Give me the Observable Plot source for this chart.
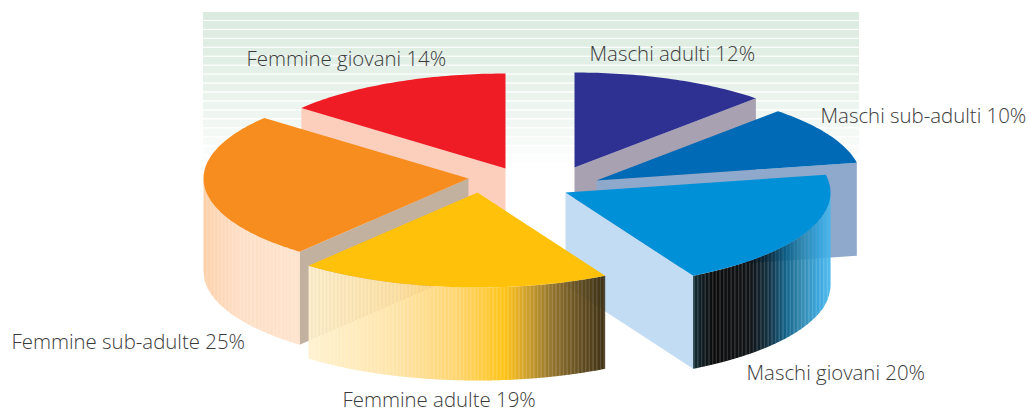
<!DOCTYPE html>
<html>
<head>
<meta charset="utf-8">
<script src="https://cdn.jsdelivr.net/npm/d3@7"></script>
<script src="https://cdn.jsdelivr.net/npm/@observablehq/plot@0.6"></script>
<style>html,body{margin:0;padding:0;background:#fff}svg{display:block}</style>
</head>
<body>
<div id="chart"></div>
<script>
// Data, clockwise from twelve o'clock
const categories = ["Maschi adulti","Maschi sub-adulti","Maschi giovani","Femmine adulte","Femmine sub-adulte","Femmine giovani"];
const shares = [12,10,20,19,25,14];

// Styles
const topColors = ["#2e3192","#006ab6","#0090d7","#ffc10a","#f78d1e","#ef1c25"];
const sideColors = ["#a7a1b1","#8fa9cc","#c2dcf3",null,"#c3b1a0","#fccfbd"];
const rimStops = [
  null,
  null,
  [[0,"#0c2a33"],[0.05,"#03141a"],[0.15,"#000000"],[0.42,"#05090c"],[0.55,"#07283a"],[0.68,"#0a5f88"],[0.8,"#2d88b0"],[0.9,"#2f9fd8"],[1,"#4ab8ec"]],
  [[0,"#fff1cf"],[0.3,"#ffe3a4"],[0.5,"#ffd36a"],[0.66,"#ffc20e"],[0.72,"#d9a521"],[0.82,"#8f6f25"],[0.92,"#5c4618"],[1,"#38290b"]],
  [[0,"#fcd0a8"],[0.12,"#fdd6b4"],[0.4,"#fedfc6"],[1,"#ffe3cd"]],
  null
];
const rimOpacity = [1,1,0.95,0.96,1,1];
const bandShades = ["#dcebe0","#ddece1","#deece2","#dfede3","#e1eee4","#e2efe6","#e4f0e8","#e6f1e9","#e8f2eb","#eaf4ed","#ecf5ef","#eff6f1","#f1f7f3","#f4f9f5","#f7fbf8","#fafcfb","#fcfefd","#fefffe"];

// Layout of the exploded pie
const apexX = [574,596,565,477,468,505];
const apexY = [167,180,192,192,178,168];
const RX = 265, RY = 95, DEPTH = 93, STRIP = 1.37, OVERLAP = 0.2;
const paintOrder = [5,0,1,4,2,3];
const labelX = [589,820,746,342,11,246];
const labelY = [60,122,379,406,348,65];
const bandLeft = 203, bandRight = 859, bandTop = 12, bandStep = 8.96, bandGap = 1;

// Geometry derived from the shares
const total = d3.sum(shares);
const edges = d3.cumsum([0, ...shares]).map(v => v / total * 360);
const rim = (i, deg) => {
  const a = deg * Math.PI / 180;
  return {x: apexX[i] + RX * Math.sin(a), y: apexY[i] - RY * Math.cos(a)};
};
const topRows = i => {
  const rows = [{id: "t" + i, x: apexX[i], y: apexY[i], color: topColors[i]}];
  const n = Math.ceil(edges[i + 1] - edges[i]);
  for (let k = 0; k <= n; ++k) {
    const p = rim(i, edges[i] + (edges[i + 1] - edges[i]) * k / n);
    rows.push({id: "t" + i, x: p.x, y: p.y, color: topColors[i]});
  }
  return rows;
};
const sideRows = i => {
  const a0 = edges[i], a1 = edges[i + 1];
  if (a0 < 180 && a1 > 180) return [];
  const p = rim(i, a1 <= 180 ? a1 : a0);
  const id = "s" + i, color = sideColors[i];
  return [
    {id, color, x: apexX[i], y: apexY[i]},
    {id, color, x: p.x, y: p.y},
    {id, color, x: p.x, y: p.y + DEPTH},
    {id, color, x: apexX[i], y: apexY[i] + DEPTH}
  ];
};
const rimRows = i => {
  if (!rimStops[i]) return [];
  const a0 = Math.max(edges[i], 90), a1 = Math.min(edges[i + 1], 270);
  const xa = rim(i, a0).x, xb = rim(i, a1).x;
  const left = Math.min(xa, xb), right = Math.max(xa, xb);
  const color = d3.scaleLinear().domain(rimStops[i].map(s => s[0])).range(rimStops[i].map(s => s[1])).interpolate(d3.interpolateRgb);
  const yAt = x => {
    const u = Math.max(-1, Math.min(1, (x - apexX[i]) / RX));
    return apexY[i] + RY * Math.sqrt(1 - u * u);
  };
  const rows = [];
  let k = 0;
  for (let x = left; x < right; x += STRIP, ++k) {
    const x2 = Math.min(x + STRIP + OVERLAP, right);
    const c = color(((x + x2) / 2 - left) / (right - left));
    const id = "r" + i + "-" + k;
    rows.push(
      {id, color: c, x, y: yAt(x)},
      {id, color: c, x: x2, y: yAt(x2)},
      {id, color: c, x: x2, y: yAt(x2) + DEPTH},
      {id, color: c, x, y: yAt(x) + DEPTH}
    );
  }
  return rows;
};
const polys = (rows, opacity = 1) => Plot.line(rows, {x: "x", y: "y", z: "id", fill: "color", stroke: "none", curve: "linear", opacity});

const bands = bandShades.map((color, i) => ({
  color, x1: bandLeft, x2: bandRight,
  y1: bandTop + i * bandStep,
  y2: bandTop + (i + 1) * bandStep - bandGap - 0.04 * i
}));

const marks = [
  Plot.rect(bands, {x1: "x1", x2: "x2", y1: "y1", y2: "y2", fill: "color"})
];
for (const i of paintOrder) {
  if (sideColors[i]) marks.push(polys(sideRows(i)));
  if (rimStops[i]) marks.push(polys(rimRows(i), rimOpacity[i]));
  marks.push(polys(topRows(i)));
}
marks.push(Plot.text(categories.map((c, i) => ({t: `${c} ${shares[i]}%`, x: labelX[i], y: labelY[i]})), {
  x: "x", y: "y", text: "t", textAnchor: "start", lineAnchor: "bottom",
  fontFamily: "'Open Sans'", fontWeight: 300, fontSize: 20.4, fill: "#3a3a3a"
}));

const chart = Plot.plot({
  width: 1029, height: 412,
  marginTop: 0, marginRight: 0, marginBottom: 0, marginLeft: 0,
  x: {domain: [0, 1029], range: [0, 1029], axis: null},
  y: {domain: [0, 412], range: [0, 412], axis: null},
  style: {background: "white"},
  marks
});
document.getElementById("chart").append(chart);
</script>
</body>
</html>
